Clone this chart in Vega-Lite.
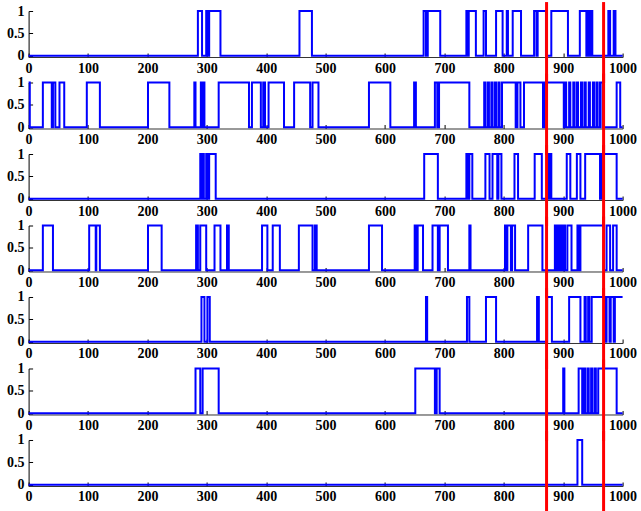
{
"$schema":"https://vega.github.io/schema/vega-lite/v6.json",
"autosize":{"type":"pad"},
"padding":{"left":6.6,"top":0,"right":4,"bottom":0},
"bounds":"flush",
"config":{"view":{"stroke":null},"axis":{"labelFont":"Liberation Serif","labelFontWeight":"bold","labelFontSize":14,"labelColor":"#000","domainColor":"#000","tickColor":"#000","grid":false,"title":null,"labelOverlap":false,"labelFlush":false,"labelBound":false}},
"data":{"values":[
{"p":1,"x":0,"y":0},{"p":1,"x":285,"y":1},{"p":1,"x":292,"y":0},{"p":1,"x":299,"y":1},{"p":1,"x":302,"y":0},{"p":1,"x":304,"y":1},{"p":1,"x":323,"y":0},{"p":1,"x":456,"y":1},{"p":1,"x":477,"y":0},{"p":1,"x":665,"y":1},{"p":1,"x":669,"y":0},{"p":1,"x":672,"y":1},{"p":1,"x":693,"y":0},{"p":1,"x":737,"y":1},{"p":1,"x":739,"y":0},{"p":1,"x":741,"y":1},{"p":1,"x":753,"y":0},{"p":1,"x":766,"y":1},{"p":1,"x":770,"y":0},{"p":1,"x":787,"y":1},{"p":1,"x":798,"y":0},{"p":1,"x":805,"y":1},{"p":1,"x":807,"y":0},{"p":1,"x":815,"y":1},{"p":1,"x":829,"y":0},{"p":1,"x":851,"y":1},{"p":1,"x":855,"y":0},{"p":1,"x":857,"y":1},{"p":1,"x":871,"y":0},{"p":1,"x":880,"y":1},{"p":1,"x":908,"y":0},{"p":1,"x":928,"y":1},{"p":1,"x":939,"y":0},{"p":1,"x":942,"y":1},{"p":1,"x":944,"y":0},{"p":1,"x":946,"y":1},{"p":1,"x":949,"y":0},{"p":1,"x":976,"y":1},{"p":1,"x":979,"y":0},{"p":1,"x":985,"y":1},{"p":1,"x":988,"y":0},{"p":1,"x":1000,"y":0},
{"p":2,"x":0,"y":1},{"p":2,"x":2,"y":0},{"p":2,"x":24,"y":1},{"p":2,"x":39,"y":0},{"p":2,"x":41,"y":1},{"p":2,"x":45,"y":0},{"p":2,"x":52,"y":1},{"p":2,"x":60,"y":0},{"p":2,"x":98,"y":1},{"p":2,"x":120,"y":0},{"p":2,"x":201,"y":1},{"p":2,"x":237,"y":0},{"p":2,"x":279,"y":1},{"p":2,"x":281,"y":0},{"p":2,"x":290,"y":1},{"p":2,"x":292,"y":0},{"p":2,"x":294,"y":1},{"p":2,"x":296,"y":0},{"p":2,"x":320,"y":1},{"p":2,"x":371,"y":0},{"p":2,"x":376,"y":1},{"p":2,"x":391,"y":0},{"p":2,"x":395,"y":1},{"p":2,"x":398,"y":0},{"p":2,"x":404,"y":1},{"p":2,"x":430,"y":0},{"p":2,"x":447,"y":1},{"p":2,"x":474,"y":0},{"p":2,"x":478,"y":1},{"p":2,"x":488,"y":0},{"p":2,"x":573,"y":1},{"p":2,"x":609,"y":0},{"p":2,"x":649,"y":1},{"p":2,"x":652,"y":0},{"p":2,"x":684,"y":1},{"p":2,"x":688,"y":0},{"p":2,"x":691,"y":1},{"p":2,"x":742,"y":0},{"p":2,"x":767,"y":1},{"p":2,"x":769,"y":0},{"p":2,"x":773,"y":1},{"p":2,"x":775,"y":0},{"p":2,"x":779,"y":1},{"p":2,"x":781,"y":0},{"p":2,"x":785,"y":1},{"p":2,"x":787,"y":0},{"p":2,"x":791,"y":1},{"p":2,"x":793,"y":0},{"p":2,"x":797,"y":1},{"p":2,"x":820,"y":0},{"p":2,"x":823,"y":1},{"p":2,"x":828,"y":0},{"p":2,"x":834,"y":1},{"p":2,"x":866,"y":0},{"p":2,"x":869,"y":1},{"p":2,"x":901,"y":0},{"p":2,"x":903,"y":1},{"p":2,"x":905,"y":0},{"p":2,"x":910,"y":1},{"p":2,"x":912,"y":0},{"p":2,"x":917,"y":1},{"p":2,"x":919,"y":0},{"p":2,"x":923,"y":1},{"p":2,"x":925,"y":0},{"p":2,"x":930,"y":1},{"p":2,"x":932,"y":0},{"p":2,"x":936,"y":1},{"p":2,"x":938,"y":0},{"p":2,"x":943,"y":1},{"p":2,"x":945,"y":0},{"p":2,"x":950,"y":1},{"p":2,"x":952,"y":0},{"p":2,"x":956,"y":1},{"p":2,"x":958,"y":0},{"p":2,"x":962,"y":1},{"p":2,"x":966,"y":0},{"p":2,"x":990,"y":1},{"p":2,"x":996,"y":0},{"p":2,"x":1000,"y":0},
{"p":3,"x":0,"y":0},{"p":3,"x":289,"y":1},{"p":3,"x":291,"y":0},{"p":3,"x":293,"y":1},{"p":3,"x":295,"y":0},{"p":3,"x":299,"y":1},{"p":3,"x":302,"y":0},{"p":3,"x":304,"y":1},{"p":3,"x":315,"y":0},{"p":3,"x":666,"y":1},{"p":3,"x":689,"y":0},{"p":3,"x":737,"y":1},{"p":3,"x":740,"y":0},{"p":3,"x":742,"y":1},{"p":3,"x":747,"y":0},{"p":3,"x":769,"y":1},{"p":3,"x":776,"y":0},{"p":3,"x":781,"y":1},{"p":3,"x":789,"y":0},{"p":3,"x":791,"y":1},{"p":3,"x":796,"y":0},{"p":3,"x":818,"y":1},{"p":3,"x":824,"y":0},{"p":3,"x":852,"y":1},{"p":3,"x":864,"y":0},{"p":3,"x":873,"y":1},{"p":3,"x":876,"y":0},{"p":3,"x":877,"y":1},{"p":3,"x":880,"y":0},{"p":3,"x":906,"y":1},{"p":3,"x":912,"y":0},{"p":3,"x":923,"y":1},{"p":3,"x":929,"y":0},{"p":3,"x":937,"y":1},{"p":3,"x":962,"y":0},{"p":3,"x":965,"y":1},{"p":3,"x":990,"y":0},{"p":3,"x":1000,"y":0},
{"p":4,"x":0,"y":0},{"p":4,"x":24,"y":1},{"p":4,"x":41,"y":0},{"p":4,"x":102,"y":1},{"p":4,"x":113,"y":0},{"p":4,"x":114,"y":1},{"p":4,"x":120,"y":0},{"p":4,"x":201,"y":1},{"p":4,"x":224,"y":0},{"p":4,"x":282,"y":1},{"p":4,"x":285,"y":0},{"p":4,"x":289,"y":1},{"p":4,"x":299,"y":0},{"p":4,"x":313,"y":1},{"p":4,"x":323,"y":0},{"p":4,"x":334,"y":1},{"p":4,"x":337,"y":0},{"p":4,"x":393,"y":1},{"p":4,"x":402,"y":0},{"p":4,"x":411,"y":1},{"p":4,"x":423,"y":0},{"p":4,"x":455,"y":1},{"p":4,"x":478,"y":0},{"p":4,"x":482,"y":1},{"p":4,"x":485,"y":0},{"p":4,"x":573,"y":1},{"p":4,"x":595,"y":0},{"p":4,"x":650,"y":1},{"p":4,"x":653,"y":0},{"p":4,"x":655,"y":1},{"p":4,"x":664,"y":0},{"p":4,"x":680,"y":1},{"p":4,"x":689,"y":0},{"p":4,"x":692,"y":1},{"p":4,"x":706,"y":0},{"p":4,"x":742,"y":1},{"p":4,"x":744,"y":0},{"p":4,"x":802,"y":1},{"p":4,"x":805,"y":0},{"p":4,"x":806,"y":1},{"p":4,"x":812,"y":0},{"p":4,"x":814,"y":1},{"p":4,"x":819,"y":0},{"p":4,"x":841,"y":1},{"p":4,"x":865,"y":0},{"p":4,"x":886,"y":1},{"p":4,"x":888,"y":0},{"p":4,"x":890,"y":1},{"p":4,"x":892,"y":0},{"p":4,"x":894,"y":1},{"p":4,"x":896,"y":0},{"p":4,"x":898,"y":1},{"p":4,"x":900,"y":0},{"p":4,"x":901,"y":1},{"p":4,"x":903,"y":0},{"p":4,"x":907,"y":1},{"p":4,"x":914,"y":0},{"p":4,"x":924,"y":1},{"p":4,"x":926,"y":0},{"p":4,"x":929,"y":1},{"p":4,"x":968,"y":0},{"p":4,"x":973,"y":1},{"p":4,"x":979,"y":0},{"p":4,"x":984,"y":1},{"p":4,"x":990,"y":0},{"p":4,"x":1000,"y":0},
{"p":5,"x":0,"y":0},{"p":5,"x":291,"y":1},{"p":5,"x":296,"y":0},{"p":5,"x":301,"y":1},{"p":5,"x":305,"y":0},{"p":5,"x":669,"y":1},{"p":5,"x":671,"y":0},{"p":5,"x":738,"y":1},{"p":5,"x":742,"y":0},{"p":5,"x":770,"y":1},{"p":5,"x":787,"y":0},{"p":5,"x":856,"y":1},{"p":5,"x":859,"y":0},{"p":5,"x":873,"y":1},{"p":5,"x":881,"y":0},{"p":5,"x":910,"y":1},{"p":5,"x":929,"y":0},{"p":5,"x":936,"y":1},{"p":5,"x":938,"y":0},{"p":5,"x":942,"y":1},{"p":5,"x":944,"y":0},{"p":5,"x":948,"y":1},{"p":5,"x":971,"y":0},{"p":5,"x":973,"y":1},{"p":5,"x":978,"y":0},{"p":5,"x":980,"y":1},{"p":5,"x":985,"y":0},{"p":5,"x":987,"y":1},{"p":5,"x":1000,"y":1},
{"p":6,"x":0,"y":0},{"p":6,"x":281,"y":1},{"p":6,"x":289,"y":0},{"p":6,"x":293,"y":1},{"p":6,"x":320,"y":0},{"p":6,"x":651,"y":1},{"p":6,"x":684,"y":0},{"p":6,"x":687,"y":1},{"p":6,"x":692,"y":0},{"p":6,"x":900,"y":1},{"p":6,"x":902,"y":0},{"p":6,"x":926,"y":1},{"p":6,"x":932,"y":0},{"p":6,"x":935,"y":1},{"p":6,"x":937,"y":0},{"p":6,"x":941,"y":1},{"p":6,"x":943,"y":0},{"p":6,"x":947,"y":1},{"p":6,"x":949,"y":0},{"p":6,"x":953,"y":1},{"p":6,"x":955,"y":0},{"p":6,"x":959,"y":1},{"p":6,"x":990,"y":0},{"p":6,"x":1000,"y":0},
{"p":7,"x":0,"y":0},{"p":7,"x":924,"y":1},{"p":7,"x":932,"y":0},{"p":7,"x":1000,"y":0},
{"p":1,"r":872},{"p":1,"r":968},{"p":2,"r":872},{"p":2,"r":968},{"p":3,"r":872},{"p":3,"r":968},{"p":4,"r":872},{"p":4,"r":968},{"p":5,"r":872},{"p":5,"r":968},{"p":6,"r":872},{"p":6,"r":968},{"p":7,"r":872},{"p":7,"r":968}
]},
"facet":{"row":{"field":"p","type":"ordinal","header":null}},
"spacing":{"row":25.5},
"resolve":{"axis":{"x":"independent","y":"independent"}},
"spec":{"width":594,"height":46,"layer":[
{"transform":[{"filter":"isValid(datum.y)"}],
"mark":{"type":"line","interpolate":"step-after","color":"#0000ff","strokeWidth":2},
"encoding":{
"x":{"field":"x","type":"quantitative","scale":{"domain":[0,1000],"nice":false},"axis":{"values":[0,100,200,300,400,500,600,700,800,900,1000],"tickCount":11,"format":"d","tickSize":-4,"labelPadding":8,"domainColor":"#333","labelFlush":false,"labelOverlap":false}},
"y":{"field":"y","type":"quantitative","scale":{"domain":[-0.03,1],"nice":false,"zero":false},"axis":{"values":[0,0.5,1],"tickCount":3,"format":"~g","tickSize":-4,"labelPadding":8.5,"labelFlush":false,"labelOverlap":false}},
"order":{"field":"x","type":"quantitative"}}},
{"transform":[{"filter":"isValid(datum.r)"}],
"mark":{"type":"rule","color":"#ff0000","strokeWidth":3},
"encoding":{"x":{"field":"r","type":"quantitative"},"y":{"datum":-0.62},"y2":{"datum":1.2}}}
]}
}
